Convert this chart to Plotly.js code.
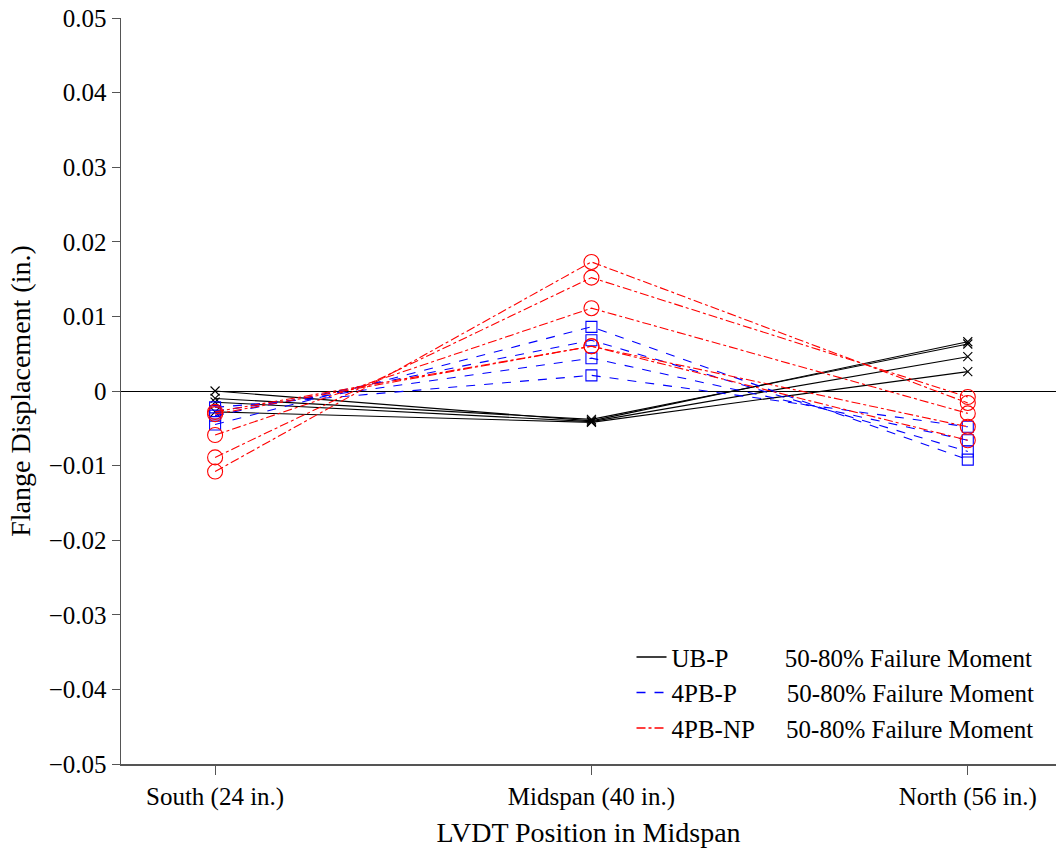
<!DOCTYPE html>
<html>
<head>
<meta charset="utf-8">
<script src="https://cdn.plot.ly/plotly-3.0.1.min.js"></script>
<style>html,body{margin:0;padding:0;background:#fff;}</style>
</head>
<body>
<div id="chart" style="width:1056px;height:848px;"></div>
<script>
// LVDT positions (in.)
const positions = [24, 40, 56];
const positionLabels = ["South (24 in.)", "Midspan (40 in.)", "North (56 in.)"];

// UB-P, 50-80% failure moment (black, x markers)
const ubP1 = [0.0000, -0.0040, 0.0066];
const ubP2 = [-0.0010, -0.0038, 0.0063];
const ubP3 = [-0.0015, -0.0041, 0.0046];
const ubP4 = [-0.0028, -0.0042, 0.0026];

// 4PB-P, 50-80% failure moment (blue, squares)
const pbP1 = [-0.0045, 0.0086, -0.0092];
const pbP2 = [-0.0033, 0.0068, -0.0081];
const pbP3 = [-0.0027, 0.0044, -0.0066];
const pbP4 = [-0.0022, 0.0021, -0.0048];

// 4PB-NP, 50-80% failure moment (red, circles)
const pbNP1 = [-0.0108, 0.0173, -0.0016];
const pbNP2 = [-0.0089, 0.0152, -0.0008];
const pbNP3 = [-0.0059, 0.0111, -0.0030];
const pbNP4 = [-0.0028, 0.0060, -0.0048];
const pbNP5 = [-0.0031, 0.0060, -0.0066];

const legendNames = ["UB-P", "4PB-P", "4PB-NP"];
const legendSuffix = "50-80% Failure Moment";

const groups = [
  {name: legendNames[0], data: [ubP1, ubP2, ubP3, ubP4], color: "#000000", dash: "solid", symbol: "x-thin-open", size: 9},
  {name: legendNames[1], data: [pbP1, pbP2, pbP3, pbP4], color: "#0000ff", dash: "dash", symbol: "square-open", size: 11},
  {name: legendNames[2], data: [pbNP1, pbNP2, pbNP3, pbNP4, pbNP5], color: "#ff0000", dash: "dashdot", symbol: "circle-open", size: 15}
];

const sp = n => "\u00a0".repeat(n);
const pads = [sp(9), sp(8), sp(5)];

const traces = [];
groups.forEach((g, gi) => {
  g.data.forEach(arr => {
    traces.push({
      x: positions, y: arr, type: "scatter", mode: "lines+markers",
      line: {color: g.color, width: 1.1, dash: g.dash},
      marker: {symbol: g.symbol, size: g.size, color: g.color, line: {color: g.color, width: 1.1}},
      showlegend: false, legendgroup: g.name, hoverinfo: "skip"
    });
  });
});
groups.forEach((g, gi) => {
  traces.push({
    x: [null], y: [null], type: "scatter", mode: "lines",
    line: {color: g.color, width: 1.6, dash: g.dash},
    name: g.name + pads[gi] + legendSuffix, legendgroup: g.name, showlegend: true
  });
});

const font = "Liberation Serif";
const layout = {
  width: 1056, height: 848,
  margin: {l: 121, r: 0, t: 18, b: 84},
  paper_bgcolor: "#fff", plot_bgcolor: "#fff",
  font: {family: font, size: 24, color: "#000"},
  showlegend: true,
  legend: {x: 0.546, y: 0.017, xanchor: "left", yanchor: "bottom", bgcolor: "rgba(0,0,0,0)",
           font: {family: font, size: 25, color: "#000"}, tracegroupgap: 0},
  xaxis: {
    range: [20, 59.75], tickvals: positions, ticktext: positionLabels,
    showgrid: false, zeroline: false, showline: true, linecolor: "#555", linewidth: 1.5,
    ticks: "outside", ticklen: 9, tickcolor: "#555", tickwidth: 1,
    tickfont: {family: font, size: 25},
    title: {text: "LVDT Position in Midspan", font: {family: font, size: 28}, standoff: 14}
  },
  yaxis: {
    range: [-0.05, 0.05], dtick: 0.01, tick0: 0,
    showgrid: false, zeroline: true, zerolinecolor: "#000", zerolinewidth: 1,
    showline: true, linecolor: "#555", linewidth: 1.5,
    ticks: "outside", ticklen: 8, tickcolor: "#555", tickwidth: 1,
    tickfont: {family: font, size: 25},
    title: {text: "Flange Displacement (in.)", font: {family: font, size: 28}, standoff: 10}
  }
};

Plotly.newPlot("chart", traces, layout, {displayModeBar: false, staticPlot: true});
</script>
</body>
</html>
